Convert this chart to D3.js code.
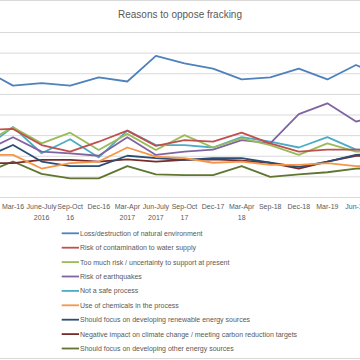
<!DOCTYPE html>
<html>
<head>
<meta charset="utf-8">
<script src="https://cdn.jsdelivr.net/npm/d3@7"></script>
<style>
  body { margin: 0; background: #fff; }
  svg { display: block; font-family: "Liberation Sans", Arial, sans-serif; }
</style>
</head>
<body>
<svg width="360" height="360"></svg>
<script>
// survey waves (first and last are cut off by the crop)
const waves = ["Dec-15", "Mar-16", "June-July 2016", "Sep-Oct 16", "Dec-16", "Mar-Apr 2017",
  "Jun-July 2017", "Sep-Oct 17", "Dec-17", "Mar-Apr 18", "Sep-18", "Dec-18", "Mar-19", "Jun-19", "Sep-19"];
const waveLabels = [["Dec-15"], ["Mar-16"], ["June-July", "2016"], ["Sep-Oct", "16"], ["Dec-16"],
  ["Mar-Apr", "2017"], ["Jun-July", "2017"], ["Sep-Oct", "17"], ["Dec-17"], ["Mar-Apr", "18"],
  ["Sep-18"], ["Dec-18"], ["Mar-19"], ["Jun-19"], ["Sep-19"]];

const reasons = [
  "Loss/destruction of natural environment",
  "Risk of contamination to water supply",
  "Too much risk / uncertainty to support at present",
  "Risk of earthquakes",
  "Not a safe process",
  "Use of chemicals in the process",
  "Should focus on developing renewable energy sources",
  "Negative impact on climate change / meeting carbon reduction targets",
  "Should focus on developing other energy sources"
];

const environment = [30.8, 27.0, 27.6, 27.0, 29.0, 28.0, 34.2, 32.4, 31.1, 28.5, 29.0, 31.1, 28.5, 32.0, 29.0];
const water       = [16.3, 16.5, 12.6, 11.0, 13.4, 16.1, 12.4, 13.8, 13.4, 15.6, 13.0, 11.0, 11.5, 11.5, 11.5];
const uncertainty = [13.0, 16.9, 13.0, 15.6, 11.4, 15.3, 11.4, 15.0, 12.0, 14.2, 12.6, 10.2, 13.0, 11.0, 11.0];
const earthquakes = [11.2, 14.5, 11.0, 10.6, 10.0, 14.5, 10.2, 11.0, 11.5, 13.8, 13.0, 20.1, 22.7, 18.3, 20.0];
const notSafe     = [11.7, 17.0, 10.6, 14.0, 9.6, 16.1, 12.6, 12.6, 12.0, 14.5, 13.4, 12.0, 14.5, 11.5, 11.5];
const chemicals   = [10.2, 10.2, 6.9, 8.2, 8.6, 12.0, 9.8, 9.4, 8.3, 8.6, 7.8, 7.8, 8.2, 7.5, 7.5];
const renewables  = [9.5, 12.6, 8.6, 7.5, 7.5, 10.0, 9.4, 9.0, 9.4, 9.4, 8.3, 7.3, 8.6, 10.2, 10.5];
const climate     = [8.2, 8.2, 9.0, 9.0, 8.6, 9.1, 8.6, 9.0, 9.1, 8.8, 8.3, 6.9, 8.6, 10.0, 10.0];
const otherEnergy = [5.8, 8.6, 5.6, 4.5, 4.5, 7.5, 5.5, 5.3, 5.3, 7.5, 4.9, 5.5, 6.0, 6.9, 7.0];

const series = [environment, water, uncertainty, earthquakes, notSafe, chemicals, renewables, climate, otherEnergy];
const colours = ["#4F81BD", "#C0504D", "#9BBB59", "#8064A2", "#4BACC6", "#F79646", "#2C4D75", "#772C2A", "#5F7530"];

const svg = d3.select("svg");

// chart frame (left/right edges are outside the crop)
svg.append("line").attr("x1", 0).attr("x2", 360).attr("y1", 0.5).attr("y2", 0.5)
  .attr("stroke", "#D9D9D9");
svg.append("line").attr("x1", 0).attr("x2", 360).attr("y1", 358.5).attr("y2", 358.5)
  .attr("stroke", "#D9D9D9");

const step = 28.58;
const x = d3.scalePoint()
  .domain(waves)
  .range([13 - step, 13 + step * (waves.length - 2)]);

const y = d3.scaleLinear().domain([0, 40]).range([197, 32]);

// gridlines
svg.append("g")
  .attr("transform", "translate(-40,0)")
  .call(d3.axisLeft(y).tickValues(d3.range(0, 41, 5)).tickSize(-480).tickFormat(""))
  .call(g => g.select(".domain").remove())
  .call(g => g.selectAll("line").attr("stroke", "#D9D9D9"));

// x labels (only the ones whose centre is inside the crop)
const shown = waves.filter(d => x(d) > 0 && x(d) < 360);
const xl = svg.append("g")
  .selectAll("text")
  .data(shown)
  .enter().append("text")
  .attr("text-anchor", "middle")
  .attr("font-size", 7)
  .attr("fill", "#595959")
  .attr("transform", d => "translate(" + x(d) + ",0)");
xl.selectAll("tspan")
  .data(d => waveLabels[waves.indexOf(d)])
  .enter().append("tspan")
  .attr("x", 0)
  .attr("y", (d, j) => 209.3 + j * 10.6)
  .text(d => d);

// lines
const line = d3.line()
  .x((d, i) => x(waves[i]))
  .y(d => y(d));

svg.append("g")
  .attr("fill", "none")
  .attr("stroke-width", 1.8)
  .attr("stroke-linejoin", "round")
  .selectAll("path")
  .data(series.map((s, i) => ({ values: s, colour: colours[i] })).reverse())
  .enter().append("path")
  .attr("stroke", d => d.colour)
  .attr("d", d => line(d.values));

// title
svg.append("text")
  .attr("x", 180)
  .attr("y", 17.8)
  .attr("text-anchor", "middle")
  .attr("font-size", 10)
  .attr("fill", "#595959")
  .text("Reasons to oppose fracking");

// legend
const legend = svg.append("g")
  .selectAll("g")
  .data(reasons)
  .enter().append("g")
  .attr("transform", (d, i) => "translate(0," + (233.3 + i * 14.4) + ")");

legend.append("line")
  .attr("x1", 61.7).attr("x2", 79)
  .attr("stroke-width", 1.8)
  .attr("stroke", (d, i) => colours[i]);

legend.append("text")
  .attr("x", 80)
  .attr("dy", "0.35em")
  .attr("font-size", 7)
  .attr("fill", "#595959")
  .text(d => d);
</script>
</body>
</html>
